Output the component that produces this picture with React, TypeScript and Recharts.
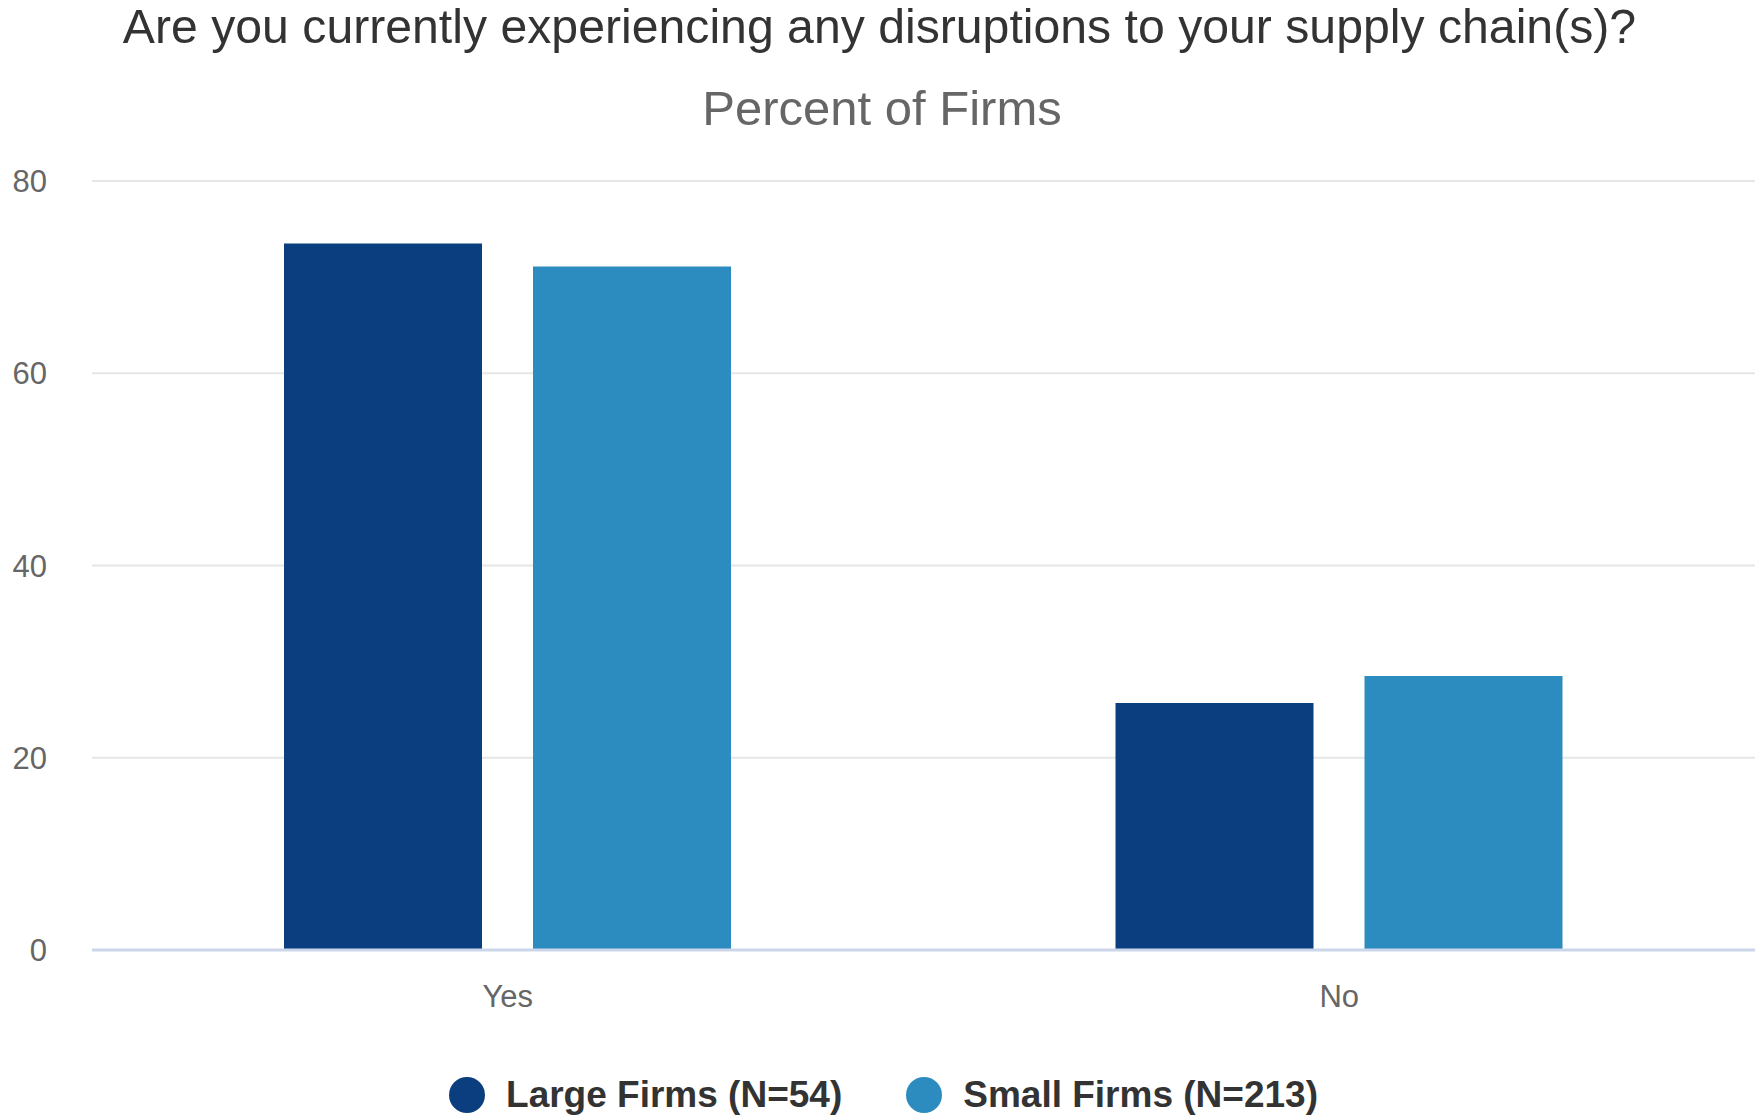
import React from "react";
import {
  BarChart,
  Bar,
  XAxis,
  YAxis,
  CartesianGrid,
  Legend,
} from "recharts";

const answers = ["Yes", "No"];
const largeFirms = [73.5, 25.7];
const smallFirms = [71.1, 28.5];
const yTicks = [0, 20, 40, 60, 80];

const LARGE_LABEL = "Large Firms (N=54)";
const SMALL_LABEL = "Small Firms (N=213)";

const data = answers.map((answer, i) => ({
  answer,
  large: largeFirms[i],
  small: smallFirms[i],
}));

const FONT = '"Liberation Sans", Arial, Helvetica, sans-serif';

function LegendRow(props: any) {
  const items = props.payload || [];
  return (
    <div
      style={{
        display: "flex",
        justifyContent: "center",
        alignItems: "center",
        gap: 64,
        fontFamily: FONT,
        paddingLeft: 12,
      }}
    >
      {items.map((item: any) => (
        <div key={item.value} style={{ display: "flex", alignItems: "center" }}>
          <span
            style={{
              display: "inline-block",
              width: 36,
              height: 36,
              borderRadius: "50%",
              background: item.color,
              marginRight: 21,
            }}
          />
          <span style={{ fontSize: 37, fontWeight: 700, color: "#333333" }}>
            {item.value}
          </span>
        </div>
      ))}
    </div>
  );
}

export default function App() {
  return (
    <div
      style={{
        position: "absolute",
        left: 0,
        top: 0,
        width: 1755,
        height: 1116,
        background: "#ffffff",
        fontFamily: FONT,
        overflow: "hidden",
      }}
    >
      <div
        style={{
          position: "absolute",
          top: 2,
          left: 0,
          width: 1755,
          textAlign: "center",
          fontSize: 48.2,
          lineHeight: "48px",
          color: "#333333",
          paddingLeft: 2,
        }}
      >
        Are you currently experiencing any disruptions to your supply chain(s)?
      </div>
      <div
        style={{
          position: "absolute",
          top: 84,
          left: 0,
          width: 1755,
          textAlign: "center",
          fontSize: 49,
          lineHeight: "48px",
          color: "#666666",
          paddingLeft: 4.5,
        }}
      >
        Percent of Firms
      </div>
      <BarChart
        width={1755}
        height={1116}
        data={data}
        margin={{ top: 181, right: 0, bottom: 0, left: 0 }}
        barSize={198}
        barGap={51}
      >
        <CartesianGrid vertical={false} stroke="#e6e6e6" strokeWidth={2} />
        <XAxis
          dataKey="answer"
          height={166}
          tickLine={false}
          tickSize={6}
          tickMargin={29}
          axisLine={{ stroke: "#ccd6eb", strokeWidth: 3 }}
          tick={{ fill: "#666666", fontSize: 31, fontFamily: FONT }}
        />
        <YAxis
          width={92}
          domain={[0, 80]}
          ticks={yTicks}
          tickLine={false}
          axisLine={false}
          tickSize={6}
          tickMargin={39}
          tick={{ fill: "#666666", fontSize: 31, fontFamily: FONT }}
        />
        <Legend
          verticalAlign="middle"
          align="center"
          layout="horizontal"
          wrapperStyle={{ top: 1074, left: 0, width: 1755 }}
          content={LegendRow}
        />
        <Bar
          dataKey="large"
          name={LARGE_LABEL}
          fill="#0B3E7E"
          isAnimationActive={false}
        />
        <Bar
          dataKey="small"
          name={SMALL_LABEL}
          fill="#2D8CBF"
          isAnimationActive={false}
        />
      </BarChart>
    </div>
  );
}
